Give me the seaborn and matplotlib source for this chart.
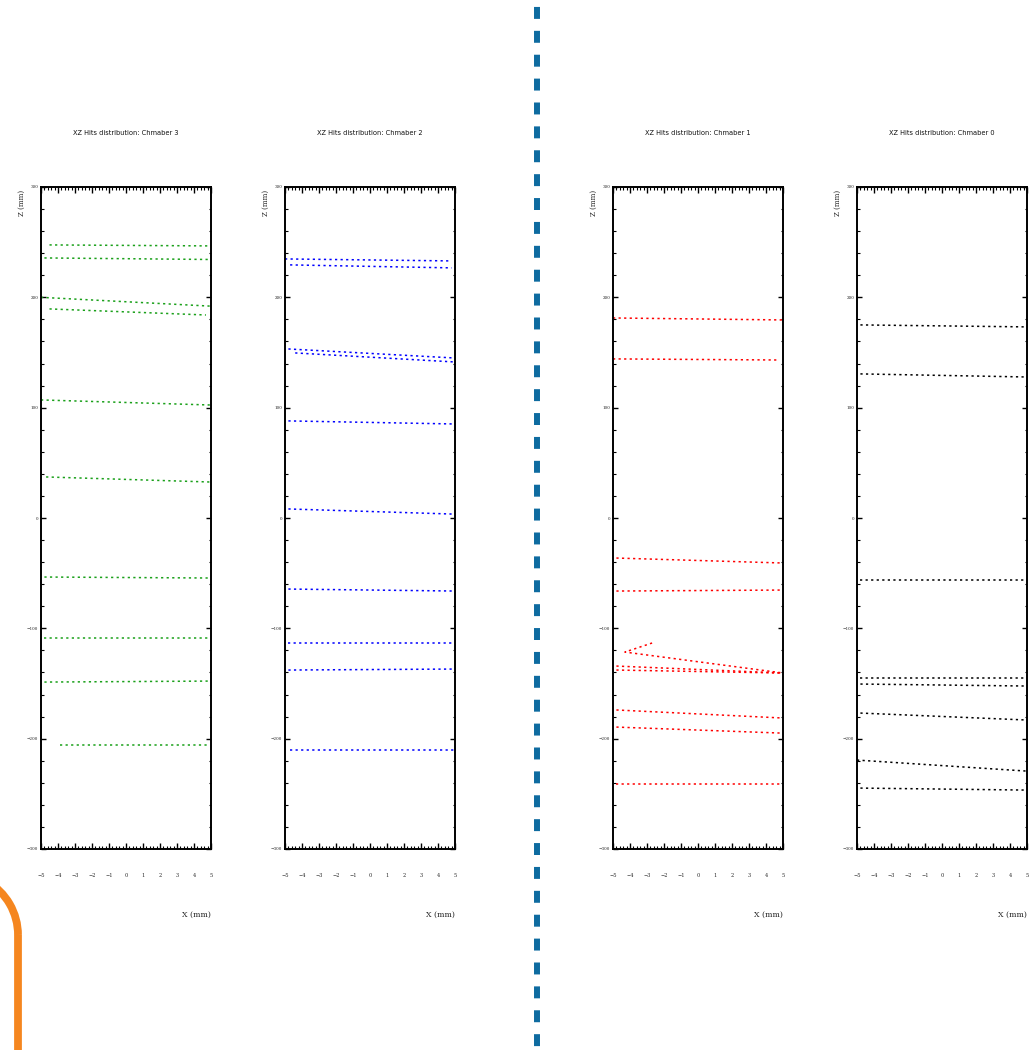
import matplotlib
matplotlib.use("Agg")
import matplotlib.pyplot as plt
from matplotlib.patches import Arc
from matplotlib.ticker import MultipleLocator
import seaborn as sns
import pandas as pd

# track endpoints: x in mm, z in mm
ch3_x0 = [-4.5, -4.8, -5.0, -4.5, -5.0, -4.7, -4.8, -4.8, -4.8, -3.9]
ch3_x1 = [5.0, 5.0, 5.0, 4.7, 5.0, 5.0, 5.0, 5.0, 5.0, 4.8]
ch3_z0 = [247.5, 235.7, 200.0, 189.5, 107.0, 37.2, -53.5, -108.8, -148.7, -205.8]
ch3_z1 = [246.6, 234.3, 192.0, 184.0, 102.4, 32.6, -54.4, -108.8, -147.8, -205.8]

ch2_x0 = [-5.0, -4.7, -4.8, -4.4, -4.8, -4.8, -4.8, -4.8, -4.8, -4.7]
ch2_x1 = [4.8, 4.8, 5.0, 5.0, 5.0, 4.8, 5.0, 5.0, 5.0, 5.0]
ch2_z0 = [234.8, 229.4, 153.2, 149.6, 88.0, 8.2, -64.4, -113.3, -137.8, -210.3]
ch2_z1 = [233.0, 226.7, 145.0, 141.4, 85.2, 3.6, -66.2, -113.3, -136.9, -210.3]

ch1_x0 = [-5.0, -5.0, -4.8, -4.8, -4.8, -4.8, -4.8, -4.8, -4.8]
ch1_x1 = [5.0, 4.8, 5.0, 5.0, 5.0, 5.0, 5.0, 5.0, 4.8]
ch1_z0 = [181.3, 144.2, -36.3, -66.2, -134.2, -137.8, -174.0, -189.5, -241.2]
ch1_z1 = [179.5, 143.2, -40.8, -65.3, -140.5, -140.5, -181.3, -195.0, -241.2]
# the bent track in chamber 1
ch1_kink_x = [-2.7, -4.3, 5.0]
ch1_kink_z = [-113.3, -121.5, -140.5]

ch0_x0 = [-4.8, -4.8, -4.8, -4.8, -4.8, -4.8, -5.0, -4.8]
ch0_x1 = [5.0, 5.0, 5.0, 5.0, 5.0, 5.0, 5.0, 5.0]
ch0_z0 = [175.0, 130.6, -56.2, -145.0, -150.5, -176.8, -219.4, -244.8]
ch0_z1 = [173.2, 127.8, -56.2, -145.0, -152.3, -183.1, -229.4, -246.6]

chamber_names = ["Chmaber 3", "Chmaber 2", "Chmaber 1", "Chmaber 0"]
chamber_colors = ["#1aa01a", "#0000ff", "#ff0000", "#000000"]
x_ticks = [-5, -4, -3, -2, -1, 0, 1, 2, 3, 4, 5]
z_ticks = [-300, -200, -100, 0, 100, 200, 300]


def tracks_frame(x0, x1, z0, z1):
    rows = []
    for i in range(len(x0)):
        rows.append({"track": i, "x": x0[i], "z": z0[i]})
        rows.append({"track": i, "x": x1[i], "z": z1[i]})
    return pd.DataFrame(rows)


frames = [
    tracks_frame(ch3_x0, ch3_x1, ch3_z0, ch3_z1),
    tracks_frame(ch2_x0, ch2_x1, ch2_z0, ch2_z1),
    tracks_frame(ch1_x0, ch1_x1, ch1_z0, ch1_z1),
    tracks_frame(ch0_x0, ch0_x1, ch0_z0, ch0_z1),
]
kink = pd.DataFrame({"track": [99] * 3, "x": ch1_kink_x, "z": ch1_kink_z})
frames[2] = pd.concat([frames[2], kink], ignore_index=True)

sns.set_theme(style="ticks")
plt.rcParams["font.family"] = ["DejaVu Sans"]
plt.rcParams["lines.scale_dashes"] = False

W, H = 1036, 1050
fig = plt.figure(figsize=(W / 100, H / 100), dpi=100)

# decoration layer in pixel coordinates
deco = fig.add_axes([0, 0, 1, 1])
deco.set_xlim(0, W)
deco.set_ylim(H, 0)
deco.axis("off")
deco.plot([537, 537], [0, H], color="#0e6ba0", lw=4.3,
          linestyle=(12.2, (8.6, 8.6)), solid_capstyle="butt")
R = 62
deco.add_patch(Arc((18 - R, 935), 2 * R, 2 * R, theta1=-60, theta2=0,
                   color="#f5861f", lw=5.6))
deco.plot([18, 18], [935, H], color="#f5861f", lw=5.6, solid_capstyle="butt")

lefts = [41, 285, 613, 857]
ax_w, ax_top, ax_bot = 170, 187, 849

for left, df, name, col in zip(lefts, frames, chamber_names, chamber_colors):
    ax = fig.add_axes([left / W, 1 - ax_bot / H, ax_w / W, (ax_bot - ax_top) / H])
    sns.lineplot(data=df, x="x", y="z", units="track", estimator=None, sort=False,
                 color=col, lw=1.1, linestyle=(0, (1.6, 2.4)), ax=ax, legend=False)
    ax.set_xlim(-5, 5)
    ax.set_ylim(-300, 300)
    ax.set_xticks(x_ticks)
    ax.set_xticklabels([str(v).replace("-", "\u2212") for v in x_ticks],
                       family="DejaVu Serif", fontsize=3.6)
    ax.set_yticks(z_ticks)
    ax.set_yticklabels([str(v).replace("-", "\u2212") for v in z_ticks],
                       family="DejaVu Serif", fontsize=3.0)
    ax.xaxis.set_minor_locator(MultipleLocator(0.2))
    ax.yaxis.set_minor_locator(MultipleLocator(20))
    ax.tick_params(axis="x", which="major", direction="in", top=True, length=4.5,
                   width=1.0, pad=17, color="black")
    ax.tick_params(axis="x", which="minor", direction="in", top=True, length=2.2,
                   width=0.8, color="black")
    ax.tick_params(axis="y", which="major", direction="in", right=True, length=3.5,
                   width=1.0, pad=2, color="black")
    ax.tick_params(axis="y", which="minor", direction="in", right=True, length=1.8,
                   width=0.8, color="black")
    for sp in ax.spines.values():
        sp.set_visible(True)
        sp.set_linewidth(1.4)
        sp.set_color("black")
    ax.set_xlabel("")
    ax.set_ylabel("")
    ax.text(0.5, 1 + 54 / 662, "XZ Hits distribution: " + name, transform=ax.transAxes,
            ha="center", va="center", fontsize=4.8, color="#111111")
    ax.text(1.0, -66 / 662, "X (mm)", transform=ax.transAxes, ha="right", va="center",
            family="DejaVu Serif", fontsize=5.6, color="#222222")
    ax.text(-19 / 170, 1 - 3 / 662, "Z (mm)", transform=ax.transAxes, rotation=90,
            ha="center", va="top", family="DejaVu Serif", fontsize=5.0, color="#222222")

fig.savefig("out.png", dpi=100)
